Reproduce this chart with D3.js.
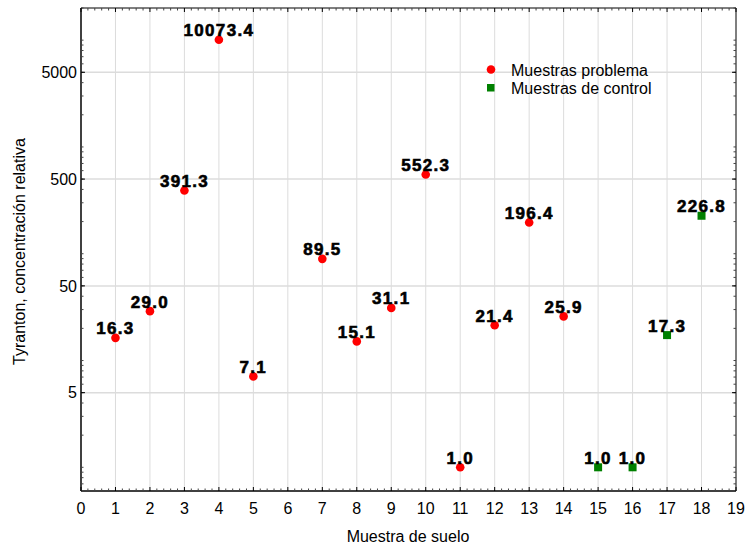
<!DOCTYPE html>
<html>
<head>
<meta charset="utf-8">
<script src="https://cdn.jsdelivr.net/npm/d3@7"></script>
<style>
  body { margin: 0; background: #fff; }
  svg { display: block; font-family: Arial, "Liberation Sans", sans-serif; }
</style>
</head>
<body>
<svg id="chart" width="747" height="548"></svg>
<script>
// data
const problemaX = [1, 2, 3, 4, 5, 7, 8, 9, 10, 11, 12, 13, 14];
const problemaY = [16.3, 29.0, 391.3, 10073.4, 7.1, 89.5, 15.1, 31.1, 552.3, 1.0, 21.4, 196.4, 25.9];
const controlX = [15, 16, 17, 18];
const controlY = [1.0, 1.0, 17.3, 226.8];
const xTicks = d3.range(0, 20);
const yTicks = [5, 50, 500, 5000];
const legendLabels = ["Muestras problema", "Muestras de control"];

const problema = problemaX.map((x, i) => ({ x: x, y: problemaY[i] }));
const control = controlX.map((x, i) => ({ x: x, y: controlY[i] }));

var svg = d3.select("#chart");
let pLeft = 81, pRight = 736, pTop = 8, pBottom = 491;

let x = d3.scaleLinear().domain([0, 19]).range([pLeft, pRight]);
let y = d3.scaleLog().domain([0.6, 20000]).range([pBottom, pTop]);

// minor ticks on the log axis: 1..9 x 10^n
let yMinor = [];
for (let e = -1; e <= 4; e++) {
  for (let k = 1; k <= 9; k++) {
    let v = k * Math.pow(10, e);
    if (v >= 0.6 && v <= 20000) yMinor.push(v);
  }
}
let xMinor = d3.range(0, 95).map(d => d / 5).filter(d => d % 1 !== 0);

// grid
svg.append("g").selectAll("line")
  .data(xTicks.filter(d => d > 0 && d < 19))
  .join("line")
  .attr("x1", d => x(d)).attr("x2", d => x(d))
  .attr("y1", pTop).attr("y2", pBottom)
  .attr("stroke", "#dcdcdc").attr("stroke-width", 1);

svg.append("g").selectAll("line")
  .data(yTicks)
  .join("line")
  .attr("x1", pLeft).attr("x2", pRight)
  .attr("y1", d => y(d)).attr("y2", d => y(d))
  .attr("stroke", "#dcdcdc").attr("stroke-width", 1.5);

// frame
svg.append("line").attr("x1", pLeft).attr("x2", pRight).attr("y1", pTop).attr("y2", pTop)
  .attr("stroke", "#555").attr("stroke-width", 1.5);
svg.append("line").attr("x1", pRight).attr("x2", pRight).attr("y1", pTop).attr("y2", pBottom)
  .attr("stroke", "#555").attr("stroke-width", 1.5);
svg.append("line").attr("x1", pLeft).attr("x2", pLeft).attr("y1", pTop).attr("y2", pBottom)
  .attr("stroke", "#000").attr("stroke-width", 1.5);
svg.append("line").attr("x1", pLeft).attr("x2", pRight).attr("y1", pBottom).attr("y2", pBottom)
  .attr("stroke", "#000").attr("stroke-width", 1.5);

// inward ticks on all sides
function tickMarks(vals, len, color) {
  let g = svg.append("g").attr("stroke", color).attr("stroke-width", 1);
  g.selectAll(".b").data(vals.x).join("line").attr("class", "b")
    .attr("x1", d => x(d)).attr("x2", d => x(d))
    .attr("y1", pBottom).attr("y2", pBottom - len);
  g.selectAll(".t").data(vals.x).join("line").attr("class", "t")
    .attr("x1", d => x(d)).attr("x2", d => x(d))
    .attr("y1", pTop).attr("y2", pTop + len);
  g.selectAll(".l").data(vals.y).join("line").attr("class", "l")
    .attr("x1", pLeft).attr("x2", pLeft + len)
    .attr("y1", d => y(d)).attr("y2", d => y(d));
  g.selectAll(".r").data(vals.y).join("line").attr("class", "r")
    .attr("x1", pRight).attr("x2", pRight - len)
    .attr("y1", d => y(d)).attr("y2", d => y(d));
}
tickMarks({ x: xMinor, y: yMinor }, 2.5, "#444");
tickMarks({ x: xTicks, y: yTicks }, 4, "#000");

// tick labels
svg.append("g").selectAll("text")
  .data(xTicks)
  .join("text")
  .attr("x", d => x(d))
  .attr("y", 514)
  .attr("text-anchor", "middle")
  .attr("font-size", 16)
  .text(d => d);

svg.append("g").selectAll("text")
  .data(yTicks)
  .join("text")
  .attr("x", pLeft - 4)
  .attr("y", d => y(d))
  .attr("dy", "0.36em")
  .attr("text-anchor", "end")
  .attr("font-size", 16)
  .text(d => d);

// axis titles
svg.append("text")
  .attr("x", (pLeft + pRight) / 2 - 0.5)
  .attr("y", 542)
  .attr("text-anchor", "middle")
  .attr("font-size", 16)
  .text("Muestra de suelo");

svg.append("text")
  .attr("transform", `translate(25,${(pTop + pBottom) / 2 + 2}) rotate(-90)`)
  .attr("text-anchor", "middle")
  .attr("font-size", 16)
  .text("Tyranton, concentración relativa");

// points
svg.append("g").selectAll("circle")
  .data(problema)
  .join("circle")
  .attr("cx", d => x(d.x))
  .attr("cy", d => y(d.y))
  .attr("r", 4.3)
  .attr("fill", "#ff0000");

svg.append("g").selectAll("rect")
  .data(control)
  .join("rect")
  .attr("x", d => x(d.x) - 4)
  .attr("y", d => y(d.y) - 4)
  .attr("width", 8)
  .attr("height", 8)
  .attr("fill", "#008000");

// value labels (heavy, slightly wide like the original)
let fmt = d3.format(".1f");
svg.append("g").selectAll("text")
  .data(problema.concat(control))
  .join("text")
  .attr("x", d => x(d.x))
  .attr("y", d => y(d.y) - 3.5)
  .attr("text-anchor", "middle")
  .attr("font-size", 17)
  .attr("font-weight", "bold")
  .attr("letter-spacing", 1.3)
  .attr("stroke", "#000")
  .attr("stroke-width", 0.6)
  .text(d => fmt(d.y));

// legend
let legend = svg.append("g");
legend.append("circle").attr("cx", 491).attr("cy", 69.5).attr("r", 4.3).attr("fill", "#ff0000");
legend.append("rect").attr("x", 487).attr("y", 84).attr("width", 7.5).attr("height", 7.5).attr("fill", "#008000");
legend.selectAll("text")
  .data(legendLabels)
  .join("text")
  .attr("x", 511)
  .attr("y", (d, i) => 75.5 + i * 18.5)
  .attr("font-size", 16)
  .text(d => d);
</script>
</body>
</html>
